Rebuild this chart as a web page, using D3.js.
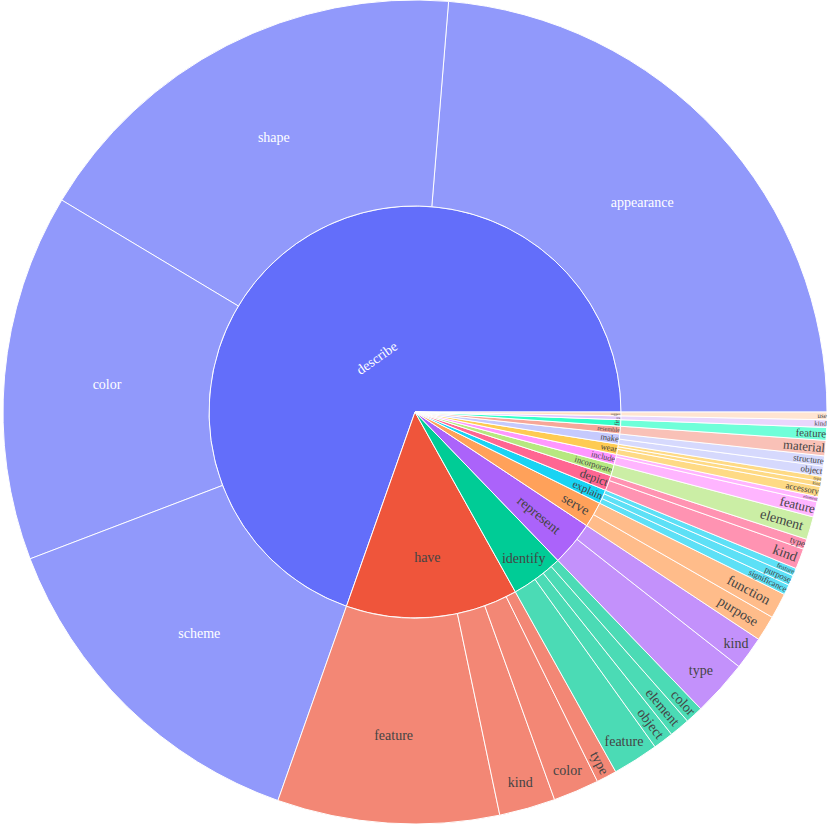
<!DOCTYPE html>
<html>
<head>
<meta charset="utf-8">
<script src="https://cdn.jsdelivr.net/npm/d3@7"></script>
<style>
  html, body { margin: 0; padding: 0; background: #fff; }
  svg { display: block; }
</style>
</head>
<body>
<svg id="chart" width="830" height="824"></svg>
<script>
// ---- data ----
const verbs = ["describe", "have", "identify", "represent", "serve", "explain", "depict",
  "incorporate", "include", "wear", "make", "resemble", "fit", "use", "suggest"];

const nounParents = [
  "describe", "describe", "describe", "describe",
  "have", "have", "have", "have",
  "identify", "identify", "identify", "identify",
  "represent", "represent",
  "serve", "serve",
  "explain", "explain", "explain",
  "depict", "depict",
  "incorporate",
  "include", "include",
  "wear", "wear", "wear",
  "make", "make",
  "resemble",
  "fit",
  "use",
  "suggest"
];
const nouns = [
  "appearance", "shape", "color", "scheme",
  "feature", "kind", "color", "type",
  "feature", "object", "element", "color",
  "type", "kind",
  "purpose", "function",
  "significance", "purpose", "feature",
  "kind", "type",
  "element",
  "feature", "element",
  "accessory", "kind", "type",
  "object", "structure",
  "material",
  "feature",
  "kind",
  "use"
];
const counts = [
  237, 177, 144, 138,
  87, 22, 18, 8,
  18, 8, 8, 7,
  22, 13,
  10, 10,
  4, 4, 3,
  8, 4,
  9,
  6, 2,
  4, 2, 2,
  4, 4,
  6,
  5,
  3,
  3
];

const colorway = ["#636efa", "#EF553B", "#00cc96", "#ab63fa", "#FFA15A",
  "#19d3f3", "#FF6692", "#B6E880", "#FF97FF", "#FECB52"];

// ---- layout ----
const W = 830, H = 824;
const cx = W / 2, cy = H / 2;
const R = Math.min(W, H) / 2;
const TEXTPAD = 3;
const FONT_SIZE = 14;
const FONT_FAMILY = "'Liberation Serif', 'Times New Roman', Times, serif";
const LEAF_OPACITY = 0.7;

function extendColors(list) {
  const out = list.slice();
  list.forEach(c => { const h = d3.hsl(c); h.l = Math.min(1, h.l + 0.2); out.push(h.formatHex()); });
  list.forEach(c => { const h = d3.hsl(c); h.l = Math.max(0, h.l - 0.2); out.push(h.formatHex()); });
  return out;
}
const colors = extendColors(colorway);

function isDark(c) {
  const rgb = d3.rgb(c);
  return (rgb.r * 299 + rgb.g * 587 + rgb.b * 114) / 1000 < 128;
}

// ---- hierarchy ----
const rootData = { name: "", children: verbs.map(v => ({ name: v, children: [] })) };
nouns.forEach((n, i) => {
  rootData.children[verbs.indexOf(nounParents[i])].children.push({ name: n, value: counts[i] });
});
const root = d3.hierarchy(rootData).sum(d => d.value || 0);
d3.partition().size([2 * Math.PI, 3])(root);
const rScale = d3.scaleLinear().domain([1, 3]).range([0, R]);

root.children.forEach((c, i) => { c.color = colors[i % colors.length]; });
root.descendants().forEach(d => { if (d.depth === 2) d.color = d.parent.color; });

const arc = d3.arc()
  .startAngle(d => Math.PI / 2 - d.x0)
  .endAngle(d => Math.PI / 2 - d.x1)
  .innerRadius(d => rScale(d.y0))
  .outerRadius(d => rScale(d.y1));

const svg = d3.select("#chart");
svg.append("rect").attr("width", W).attr("height", H).attr("fill", "#fff");
const g = svg.append("g").attr("transform", `translate(${cx},${cy})`);

// ---- text fitting (sunburst-style inside text) ----
function angleDelta(a, b) { const d = b - a; return Math.atan2(Math.sin(d), Math.cos(d)); }
function calcMaxHalfSize(a, halfAngle, r, ring) {
  const q = a + 1 / (2 * Math.tan(halfAngle));
  return r * Math.min(
    1 / (Math.sqrt(q * q + 0.5) + q),
    ring / (Math.sqrt(a * a + ring / 2) + a)
  );
}
function calcRCenter(a, b) { return Math.cos(b) - a * b; }
function calcRotate(t) { return (180 / Math.PI * t + 720) % 180 - 90; }

function transformInside(bb, pt) {
  const r = pt.rpx1;
  const half = pt.halfangle, mid = pt.midangle, ring = pt.ring;
  const all = [];
  const diam = Math.sqrt(bb.width * bb.width + bb.height * bb.height);
  const t = { scale: pt.rInscribed * r * 2 / diam, rCenter: 1 - pt.rInscribed, rotate: 0 };
  if (t.scale >= 1) return t;
  all.push(t);
  const rr = Math.max(0, r - 2 * TEXTPAD);
  let a = bb.width / bb.height;
  let s = calcMaxHalfSize(a, half, rr, ring);
  all.push({ scale: s * 2 / bb.height, rCenter: calcRCenter(a, s / rr), rotate: calcRotate(mid) });
  a = bb.height / bb.width;
  s = calcMaxHalfSize(a, half, rr, ring);
  all.push({ scale: s * 2 / bb.width, rCenter: calcRCenter(a, s / rr), rotate: calcRotate(mid + Math.PI / 2) });
  let id = 0, maxS = 0;
  all.forEach((tr, k) => { if (maxS < tr.scale) { maxS = tr.scale; id = k; } });
  return all[id];
}

const nodes = root.descendants().filter(d => d.depth > 0)
  .sort((a, b) => a.depth - b.depth);

nodes.forEach(d => {
  const isLeaf = !d.children;
  const grp = g.append("g");
  grp.append("path")
    .attr("d", arc(d))
    .attr("fill", d.color)
    .attr("stroke", "#fff")
    .attr("stroke-width", 1)
    .attr("opacity", isLeaf ? LEAF_OPACITY : null);

  const rpx0 = rScale(d.y0), rpx1 = rScale(d.y1);
  const delta = angleDelta(d.x0, d.x1);
  const pt = {
    rpx0, rpx1,
    halfangle: 0.5 * Math.min(delta || Math.PI, Math.PI),
    ring: 1 - rpx0 / rpx1,
    midangle: Math.PI / 2 - (d.x0 + d.x1) / 2
  };
  const full = Math.abs((d.x1 - d.x0) - 2 * Math.PI) < 1e-9;
  pt.rInscribed = (rpx0 === 0 && full) ? 1 :
    Math.max(0, Math.min(1 / (1 + 1 / Math.sin(pt.halfangle)), pt.ring / 2));

  const txt = grp.append("text")
    .attr("x", 0).attr("y", 0)
    .attr("text-anchor", "middle")
    .style("font-family", FONT_FAMILY)
    .style("font-size", FONT_SIZE + "px")
    .attr("fill", isDark(d.color) ? "#fff" : "#444")
    .text(d.data.name);
  const bb = txt.node().getBBox();
  const tr = transformInside(bb, pt);
  const xm = (d.x0 + d.x1) / 2;
  const rad = tr.rCenter * rpx1;
  const tx = rad * Math.cos(xm), ty = -rad * Math.sin(xm);
  const sc = Math.min(1, tr.scale);
  const bcx = bb.x + bb.width / 2, bcy = bb.y + bb.height / 2;
  txt.attr("transform",
    `translate(${tx},${ty}) rotate(${tr.rotate}) scale(${sc}) translate(${-bcx},${-bcy})`);
});
</script>
</body>
</html>
